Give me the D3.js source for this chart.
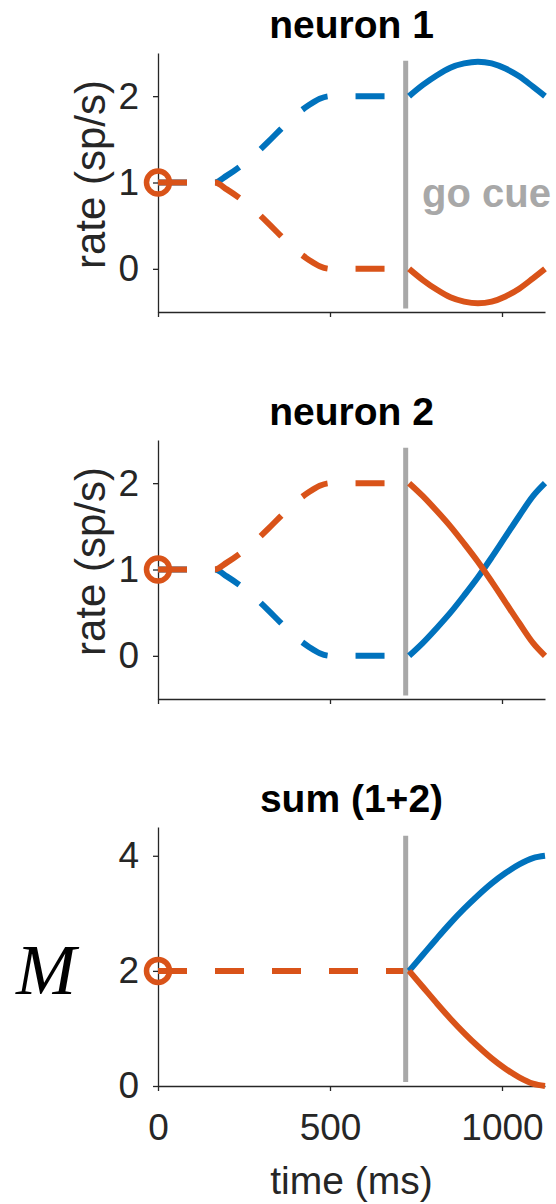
<!DOCTYPE html>
<html>
<head>
<meta charset="utf-8">
<script src="https://cdn.jsdelivr.net/npm/d3@7"></script>
<style>
  html, body { margin: 0; padding: 0; background: #fff; }
  svg { display: block; }
</style>
</head>
<body>
<div id="chart"></div>
<script>
// ---------------- data ----------------
const panelTitles = ["neuron 1", "neuron 2", "sum (1+2)"];
const yLabels = ["rate (sp/s)", "rate (sp/s)", "M"];
const xTicks = [0, 500, 1000];
const yTicksRate = [0, 1, 2];
const yTicksSum = [0, 2, 4];
const xLabel = "time (ms)";
const goCueLabel = "go cue";
const goCueTime = 720;

// preparatory period (dashed)
const prepT         = [0, 165, 200, 240, 280, 320, 360, 400, 440, 470, 500, 730];
const n1PrepBlue    = [1, 1, 1.08, 1.19, 1.32, 1.47, 1.63, 1.78, 1.90, 1.97, 2.00, 2.00];
const n1PrepOrange  = [1, 1, 0.92, 0.81, 0.68, 0.53, 0.37, 0.22, 0.10, 0.03, 0.00, 0.00];
const n2PrepBlue    = [1, 1, 0.92, 0.81, 0.68, 0.53, 0.37, 0.22, 0.10, 0.03, 0.00, 0.00];
const n2PrepOrange  = [1, 1, 1.08, 1.19, 1.32, 1.47, 1.63, 1.78, 1.90, 1.97, 2.00, 2.00];
const sumPrepT      = [0, 730];
const sumPrepBlue   = [2, 2];
const sumPrepOrange = [2, 2];

// movement period (solid)
const moveT         = [730, 770, 810, 850, 890, 930, 970, 1010, 1050, 1090, 1125];
const n1MoveBlue    = [2, 2.13, 2.24, 2.33, 2.38, 2.40, 2.38, 2.32, 2.23, 2.11, 2.00];
const n1MoveOrange  = [0, -0.13, -0.24, -0.33, -0.38, -0.40, -0.38, -0.32, -0.23, -0.11, 0.00];
const n2MoveBlue    = [0, 0.15, 0.32, 0.50, 0.70, 0.91, 1.14, 1.38, 1.62, 1.85, 2.00];
const n2MoveOrange  = [2, 1.85, 1.68, 1.50, 1.30, 1.09, 0.86, 0.62, 0.38, 0.15, 0.00];
const sumMoveBlue   = [2, 2.28, 2.56, 2.83, 3.08, 3.31, 3.52, 3.70, 3.85, 3.96, 4.00];
const sumMoveOrange = [2, 1.72, 1.44, 1.17, 0.92, 0.69, 0.48, 0.30, 0.15, 0.04, 0.00];

const startValues = [1, 1, 2];
const yDomains = [[-0.5, 2.5], [-0.5, 2.5], [0, 4.5]];
const goCueSpans = [[-0.46, 2.41], [-0.46, 2.41], [0.07, 4.35]];

// ---------------- layout ----------------
const W = 556, H = 1204;
const blue = "#0072BD", orange = "#D95319", grey = "#A8A8A8", axisCol = "#262626";
const sans = "'Liberation Sans', Arial, Helvetica, sans-serif";
const serif = "'Liberation Serif', 'Times New Roman', serif";
const left = 158, right = 545;
const panelTops = [53, 440, 827];
const panelH = 259;

const svg = d3.select("#chart").append("svg").attr("width", W).attr("height", H);
const x = d3.scaleLinear().domain([0, 1125]).range([left, right]);

const panels = [
  { title: panelTitles[0], ylab: yLabels[0], yt: yTicksRate,
    prep: [[prepT, n1PrepBlue, blue], [prepT, n1PrepOrange, orange]],
    move: [[moveT, n1MoveBlue, blue], [moveT, n1MoveOrange, orange]] },
  { title: panelTitles[1], ylab: yLabels[1], yt: yTicksRate,
    prep: [[prepT, n2PrepBlue, blue], [prepT, n2PrepOrange, orange]],
    move: [[moveT, n2MoveBlue, blue], [moveT, n2MoveOrange, orange]] },
  { title: panelTitles[2], ylab: yLabels[2], yt: yTicksSum,
    prep: [[sumPrepT, sumPrepBlue, blue], [sumPrepT, sumPrepOrange, orange]],
    move: [[moveT, sumMoveBlue, blue], [moveT, sumMoveOrange, orange]] }
];

panels.forEach((p, i) => {
  const top = panelTops[i], bottom = top + panelH;
  const y = d3.scaleLinear().domain(yDomains[i]).range([bottom, top]);
  const g = svg.append("g");
  const line = d3.line().x(d => x(d[0])).y(d => y(d[1])).curve(d3.curveMonotoneX);

  // axes
  const xa = g.append("g").attr("transform", `translate(0,${bottom})`)
    .call(d3.axisBottom(x).tickValues(xTicks).tickSize(5).tickSizeOuter(0)
      .tickFormat(i === 2 ? d3.format("d") : () => ""));
  const ya = g.append("g").attr("transform", `translate(${left},0)`)
    .call(d3.axisLeft(y).tickValues(p.yt).tickSize(5).tickSizeOuter(0)
      .tickPadding(14).tickFormat(d3.format("d")));
  [xa, ya].forEach(a => {
    a.attr("font-size", 37).attr("font-family", sans);
    a.select(".domain").attr("stroke", axisCol).attr("stroke-width", 1.3);
    a.selectAll(".tick line").attr("stroke", axisCol).attr("stroke-width", 1.3);
    a.selectAll(".tick text").attr("fill", axisCol);
  });
  xa.selectAll(".tick text").attr("dy", "1.25em");

  // dashed preparatory lines
  p.prep.forEach(([t, v, c]) => {
    g.append("path").datum(t.map((tt, k) => [tt, v[k]]))
      .attr("d", line).attr("fill", "none").attr("stroke", c)
      .attr("stroke-width", 6).attr("stroke-dasharray", "29,28");
  });

  // go cue line
  g.append("line").attr("x1", x(goCueTime)).attr("x2", x(goCueTime))
    .attr("y1", y(goCueSpans[i][0])).attr("y2", y(goCueSpans[i][1]))
    .attr("stroke", grey).attr("stroke-width", 5);

  // solid movement lines
  p.move.forEach(([t, v, c]) => {
    g.append("path").datum(t.map((tt, k) => [tt, v[k]]))
      .attr("d", line).attr("fill", "none").attr("stroke", c)
      .attr("stroke-width", 6);
  });

  // start marker
  g.append("circle").attr("cx", x(0)).attr("cy", y(startValues[i])).attr("r", 11.5)
    .attr("fill", "none").attr("stroke", orange).attr("stroke-width", 5.5);

  // title
  g.append("text").attr("x", (left + right) / 2).attr("y", top - 15)
    .attr("text-anchor", "middle").attr("font-size", 39).attr("font-weight", "bold")
    .attr("font-family", sans).attr("fill", "#000").text(p.title);

  // y label
  if (i < 2) {
    g.append("text").attr("transform", `translate(105,${(top + bottom) / 2 - 8}) rotate(-90)`)
      .attr("text-anchor", "middle").attr("font-size", 42).attr("font-family", sans)
      .attr("fill", axisCol).text(p.ylab);
  } else {
    g.append("text").attr("x", 46).attr("y", y(2) + 23)
      .attr("text-anchor", "middle").attr("font-size", 72)
      .attr("font-family", serif).attr("font-style", "italic")
      .attr("fill", "#000").text(p.ylab);
  }

  if (i === 0) {
    g.append("text").attr("x", 422).attr("y", y(0.72)).attr("font-size", 40)
      .attr("font-weight", "bold").attr("font-family", sans)
      .attr("fill", grey).text(goCueLabel);
  }
  if (i === 2) {
    g.append("text").attr("x", (left + right) / 2).attr("y", 1194)
      .attr("text-anchor", "middle").attr("font-size", 39).attr("font-family", sans)
      .attr("fill", axisCol).text(xLabel);
  }
});
</script>
</body>
</html>
